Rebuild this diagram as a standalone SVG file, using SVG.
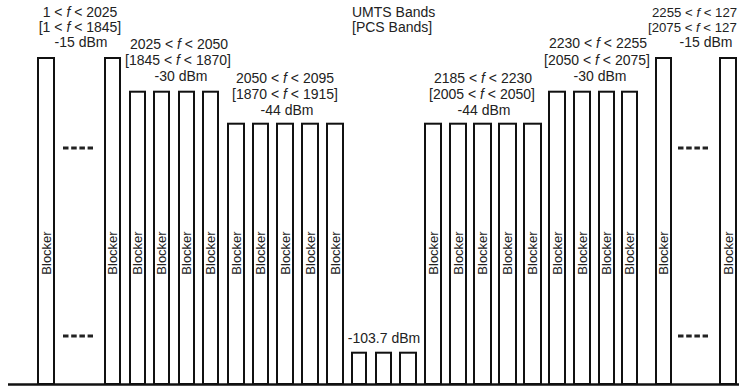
<svg xmlns="http://www.w3.org/2000/svg" width="739" height="388" viewBox="0 0 739 388">
<style>
.bar{fill:#fff;stroke:#111;stroke-width:2}
.lbl{font-family:"Liberation Sans",Arial,sans-serif;font-size:14px;fill:#222;text-anchor:middle}
.st{text-anchor:start}
.sm{font-size:13.2px}
.blk{font-family:"Liberation Sans",Arial,sans-serif;font-size:13px;fill:#222;text-anchor:middle}
.it{font-style:italic}
.dots{stroke:#222;stroke-width:3;stroke-dasharray:5.5 2.7}
.axis{stroke:#111;stroke-width:2.5}
</style>
<rect width="739" height="388" fill="#fff"/>
<g id="bars-left-15">
<g id="b1"><rect class="bar" x="38" y="58" width="16" height="326"/><text class="blk" transform="translate(51,253) rotate(-90)">Blocker</text></g>
<g id="b2"><rect class="bar" x="105" y="58" width="15" height="326"/><text class="blk" transform="translate(117.2,253) rotate(-90)">Blocker</text></g>
</g>
<g id="bars-left-30">
<g id="b3"><rect class="bar" x="130" y="91.7" width="15" height="292.3"/><text class="blk" transform="translate(142.2,253) rotate(-90)">Blocker</text></g>
<g id="b4"><rect class="bar" x="154" y="91.7" width="15" height="292.3"/><text class="blk" transform="translate(166.2,253) rotate(-90)">Blocker</text></g>
<g id="b5"><rect class="bar" x="179" y="91.7" width="15" height="292.3"/><text class="blk" transform="translate(191.2,253) rotate(-90)">Blocker</text></g>
<g id="b6"><rect class="bar" x="203" y="91.7" width="15" height="292.3"/><text class="blk" transform="translate(215.2,253) rotate(-90)">Blocker</text></g>
</g>
<g id="bars-left-44">
<g id="b7"><rect class="bar" x="228" y="123.7" width="16" height="260.3"/><text class="blk" transform="translate(240.7,253) rotate(-90)">Blocker</text></g>
<g id="b8"><rect class="bar" x="253" y="123.7" width="15" height="260.3"/><text class="blk" transform="translate(265.2,253) rotate(-90)">Blocker</text></g>
<g id="b9"><rect class="bar" x="277" y="123.7" width="16" height="260.3"/><text class="blk" transform="translate(289.7,253) rotate(-90)">Blocker</text></g>
<g id="b10"><rect class="bar" x="302" y="123.7" width="16" height="260.3"/><text class="blk" transform="translate(314.7,253) rotate(-90)">Blocker</text></g>
<g id="b11"><rect class="bar" x="327" y="123.7" width="16" height="260.3"/><text class="blk" transform="translate(339.7,253) rotate(-90)">Blocker</text></g>
</g>
<g id="bars-mid">
<g id="m1"><rect class="bar" x="352" y="352.7" width="14" height="31.3"/></g>
<g id="m2"><rect class="bar" x="376" y="352.7" width="15" height="31.3"/></g>
<g id="m3"><rect class="bar" x="400" y="352.7" width="16" height="31.3"/></g>
</g>
<g id="bars-right-44">
<g id="b12"><rect class="bar" x="425" y="123.7" width="16" height="260.3"/><text class="blk" transform="translate(437.7,253) rotate(-90)">Blocker</text></g>
<g id="b13"><rect class="bar" x="450" y="123.7" width="16" height="260.3"/><text class="blk" transform="translate(462.7,253) rotate(-90)">Blocker</text></g>
<g id="b14"><rect class="bar" x="474" y="123.7" width="17" height="260.3"/><text class="blk" transform="translate(487.2,253) rotate(-90)">Blocker</text></g>
<g id="b15"><rect class="bar" x="499" y="123.7" width="17" height="260.3"/><text class="blk" transform="translate(512.2,253) rotate(-90)">Blocker</text></g>
<g id="b16"><rect class="bar" x="524" y="123.7" width="17" height="260.3"/><text class="blk" transform="translate(537.2,253) rotate(-90)">Blocker</text></g>
</g>
<g id="bars-right-30">
<g id="b17"><rect class="bar" x="549" y="91.7" width="16" height="292.3"/><text class="blk" transform="translate(561.7,253) rotate(-90)">Blocker</text></g>
<g id="b18"><rect class="bar" x="574" y="91.7" width="16" height="292.3"/><text class="blk" transform="translate(586.7,253) rotate(-90)">Blocker</text></g>
<g id="b19"><rect class="bar" x="599" y="91.7" width="15" height="292.3"/><text class="blk" transform="translate(611.2,253) rotate(-90)">Blocker</text></g>
<g id="b20"><rect class="bar" x="622" y="91.7" width="15" height="292.3"/><text class="blk" transform="translate(634.2,253) rotate(-90)">Blocker</text></g>
</g>
<g id="bars-right-15">
<g id="b21"><rect class="bar" x="656" y="58" width="15" height="326"/><text class="blk" transform="translate(668.2,253) rotate(-90)">Blocker</text></g>
<g id="b22"><rect class="bar" x="720" y="58" width="16" height="326"/><text class="blk" transform="translate(732.7,253) rotate(-90)">Blocker</text></g>
</g>
<g id="ellipses">
<line class="dots" x1="63" y1="148" x2="93" y2="148"/>
<line class="dots" x1="63" y1="336" x2="93" y2="336"/>
<line class="dots" x1="678" y1="148" x2="708" y2="148"/>
<line class="dots" x1="678" y1="336" x2="708" y2="336"/>
</g>
<g id="labels">
<text class="lbl" x="80" y="17">1 &lt; <tspan class="it">f</tspan> &lt; 2025</text>
<text class="lbl" x="80" y="32">[1 &lt; <tspan class="it">f</tspan> &lt; 1845]</text>
<text class="lbl" x="81" y="47">-15 dBm</text>
<text class="lbl" x="179" y="49">2025 &lt; <tspan class="it">f</tspan> &lt; 2050</text>
<text class="lbl" x="178" y="65">[1845 &lt; <tspan class="it">f</tspan> &lt; 1870]</text>
<text class="lbl" x="181" y="80.5">-30 dBm</text>
<text class="lbl" x="285" y="83">2050 &lt; <tspan class="it">f</tspan> &lt; 2095</text>
<text class="lbl" x="285" y="98.5">[1870 &lt; <tspan class="it">f</tspan> &lt; 1915]</text>
<text class="lbl" x="287" y="114.5">-44 dBm</text>
<text class="lbl st" x="352" y="17">UMTS Bands</text>
<text class="lbl st" x="352" y="32">[PCS Bands]</text>
<text class="lbl" x="384" y="343">-103.7 dBm</text>
<text class="lbl" x="483" y="83">2185 &lt; <tspan class="it">f</tspan> &lt; 2230</text>
<text class="lbl" x="482" y="98.5">[2005 &lt; <tspan class="it">f</tspan> &lt; 2050]</text>
<text class="lbl" x="484" y="114.5">-44 dBm</text>
<text class="lbl" x="598" y="48">2230 &lt; <tspan class="it">f</tspan> &lt; 2255</text>
<text class="lbl" x="597" y="65">[2050 &lt; <tspan class="it">f</tspan> &lt; 2075]</text>
<text class="lbl" x="600" y="80.5">-30 dBm</text>
<text class="lbl st sm" x="652" y="16.5">2255 &lt; <tspan class="it">f</tspan> &lt; 127</text>
<text class="lbl st sm" x="648" y="32">[2075 &lt; <tspan class="it">f</tspan> &lt; 127</text>
<text class="lbl" x="706" y="47">-15 dBm</text>
</g>
<g id="connectors">
<line class="axis" x1="8" y1="384.5" x2="739" y2="384.5"/>
</g>
</svg>
